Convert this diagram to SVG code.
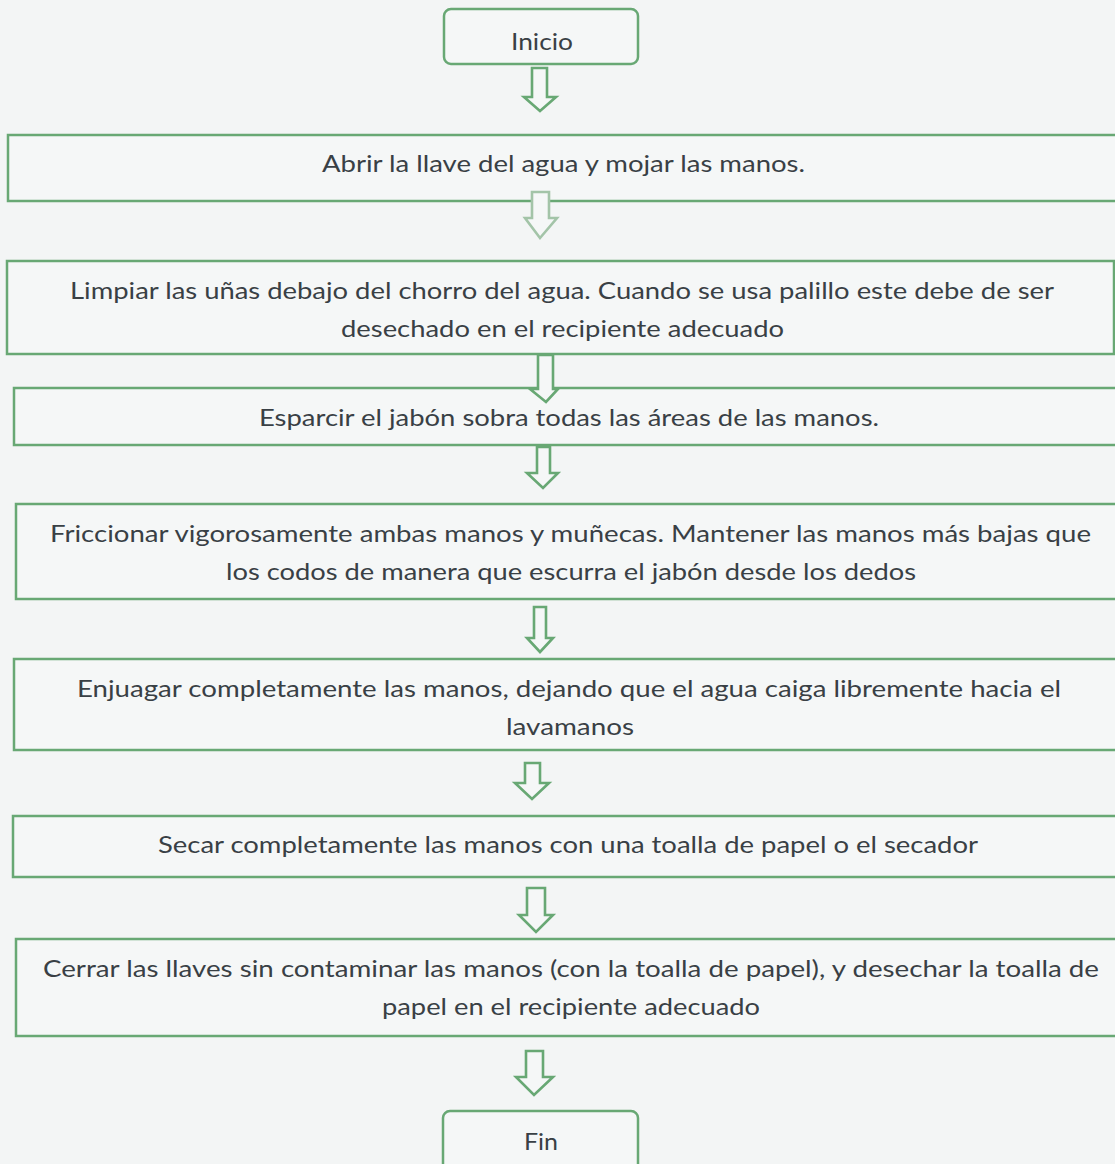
<svg xmlns="http://www.w3.org/2000/svg" width="1115" height="1164" viewBox="0 0 1115 1164">
<defs>
<style>
.bg{fill:#f3f5f5}
.box{fill:#f5f7f7;stroke:#68a874;stroke-width:2.5}
.arr{fill:#f5f7f7;stroke:#68a874;stroke-width:2.6;stroke-linejoin:miter}
.arr.faded{stroke:#a3c4a8}
.t{font-family:Lato,"Liberation Sans",sans-serif;font-size:24px;fill:#394045;text-anchor:start}
</style>
</defs>
<rect class="bg" x="0" y="0" width="1115" height="1164"/>

<g id="inicio">
<rect class="box" x="444" y="9" width="194" height="55" rx="7"/>
<text class="t" x="511" y="50" textLength="62" lengthAdjust="spacingAndGlyphs">Inicio</text>
</g>
<g id="paso1">
<rect class="box" x="8" y="135" width="1120" height="66"/>
<text class="t" x="322" y="172" textLength="483" lengthAdjust="spacingAndGlyphs">Abrir la llave del agua y mojar las manos.</text>
</g>
<g id="paso2">
<rect class="box" x="7" y="261" width="1107" height="93"/>
<text class="t" x="70" y="299" textLength="984" lengthAdjust="spacingAndGlyphs">Limpiar las uñas debajo del chorro del agua. Cuando se usa palillo este debe de ser</text>
<text class="t" x="341" y="337" textLength="443" lengthAdjust="spacingAndGlyphs">desechado en el recipiente adecuado</text>
</g>
<g id="paso3">
<rect class="box" x="14" y="388" width="1115" height="57"/>
<text class="t" x="259" y="426" textLength="620" lengthAdjust="spacingAndGlyphs">Esparcir el jabón sobra todas las áreas de las manos.</text>
</g>
<g id="paso4">
<rect class="box" x="16" y="504" width="1115" height="95"/>
<text class="t" x="50" y="542" textLength="1041" lengthAdjust="spacingAndGlyphs">Friccionar vigorosamente ambas manos y muñecas. Mantener las manos más bajas que</text>
<text class="t" x="226" y="580" textLength="690" lengthAdjust="spacingAndGlyphs">los codos de manera que escurra el jabón desde los dedos</text>
</g>
<g id="paso5">
<rect class="box" x="14" y="659" width="1115" height="91"/>
<text class="t" x="77" y="697" textLength="984" lengthAdjust="spacingAndGlyphs">Enjuagar completamente las manos, dejando que el agua caiga libremente hacia el</text>
<text class="t" x="506" y="735" textLength="128" lengthAdjust="spacingAndGlyphs">lavamanos</text>
</g>
<g id="paso6">
<rect class="box" x="13" y="816" width="1115" height="61"/>
<text class="t" x="158" y="853" textLength="820" lengthAdjust="spacingAndGlyphs">Secar completamente las manos con una toalla de papel o el secador</text>
</g>
<g id="paso7">
<rect class="box" x="16" y="939" width="1115" height="97"/>
<text class="t" x="43" y="977" textLength="1056" lengthAdjust="spacingAndGlyphs">Cerrar las llaves sin contaminar las manos (con la toalla de papel), y desechar la toalla de</text>
<text class="t" x="382" y="1015" textLength="378" lengthAdjust="spacingAndGlyphs">papel en el recipiente adecuado</text>
</g>
<g id="fin">
<rect class="box" x="443" y="1111" width="195" height="70" rx="7"/>
<text class="t" x="524" y="1150" textLength="34" lengthAdjust="spacingAndGlyphs">Fin</text>
</g>

<g id="connectors">
<polygon class="arr" points="532,68 547,68 547,97 556,97 540,111 524,97 532,97"/>
<polygon class="arr faded" points="532,192 549,192 549,218 557,218 540,238 525,218 532,218"/>
<polygon class="arr" points="538,355 553,355 553,389 558,389 546,402 530,389 538,389"/>
<polygon class="arr" points="537,447 550,447 550,473 558,473 543,488 527,473 537,473"/>
<polygon class="arr" points="534,607 546,607 546,638 553,638 540,652 527,638 534,638"/>
<polygon class="arr" points="525,763 540,763 540,783 549,783 532,799 515,783 525,783"/>
<polygon class="arr" points="527,888 545,888 545,915 553,915 536,932 519,915 527,915"/>
<polygon class="arr" points="526,1051 543,1051 543,1077 553,1077 534,1095 516,1077 526,1077"/>
</g>
</svg>
